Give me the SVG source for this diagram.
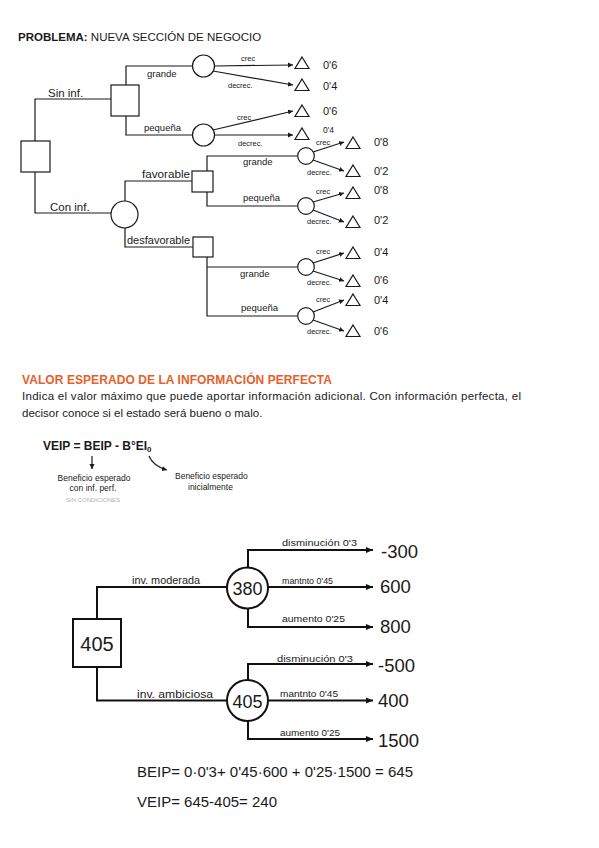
<svg xmlns="http://www.w3.org/2000/svg" width="599" height="848" viewBox="0 0 599 848">
<defs>
<style>
text{font-family:"Liberation Sans",Arial,sans-serif;fill:#1a1a1a}
.ln{fill:none;stroke:#1a1a1a;stroke-width:1.2}
.lnb{fill:none;stroke:#111;stroke-width:2}
.nd{fill:#fff;stroke:#1a1a1a;stroke-width:1.2}
.ndb{fill:#fff;stroke:#111;stroke-width:2}
.tri{fill:#fff;stroke:#1a1a1a;stroke-width:1.2}
.hw{font-size:9.5px}
.sm{font-size:7.5px}
.bl{font-size:9px}
.val{font-size:11px}
.bv{font-size:18.5px}
</style>
<marker id="ah" markerUnits="userSpaceOnUse" markerWidth="6" markerHeight="6" refX="5" refY="3" orient="auto"><path d="M0,0.5 L5,3 L0,5.5 Z" fill="#1a1a1a"/></marker>
<marker id="ahb" markerUnits="userSpaceOnUse" markerWidth="8" markerHeight="8" refX="7" refY="4" orient="auto"><path d="M0,1 L7,4 L0,7 Z" fill="#111"/></marker>
<path id="trishape" d="M0,-6 L7,5.5 L-7,5.5 Z"/>
</defs>
<rect width="599" height="848" fill="#fff"/>

<text x="18" y="41" font-size="11.5"><tspan font-weight="bold">PROBLEMA:</tspan> NUEVA SECCIÓN DE NEGOCIO</text>

<g id="connectors-top">
<path class="ln" d="M35 141 V99 H111"/>
<path class="ln" d="M35 172 V213 H111"/>
<path class="ln" d="M126 85 V66 H192.5"/>
<path class="ln" d="M126 116 V135 H192.5"/>
<path class="ln" d="M214.5 66 L293 65" marker-end="url(#ah)"/>
<path class="ln" d="M213 71 L293 85" marker-end="url(#ah)"/>
<path class="ln" d="M213 130 L293 111" marker-end="url(#ah)"/>
<path class="ln" d="M214.5 135 L293 135" marker-end="url(#ah)"/>
<path class="ln" d="M125 201 V181 H192"/>
<path class="ln" d="M125 228 V247 H193"/>
<path class="ln" d="M207 171 V156 H297.7"/>
<path class="ln" d="M207 192 V206 H297.7"/>
<path class="ln" d="M207 257 V316 H297.7"/>
<path class="ln" d="M207 267 H297.7"/>
<path class="ln" d="M313 152 L344 142" marker-end="url(#ah)"/>
<path class="ln" d="M313 160 L344 171" marker-end="url(#ah)"/>
<path class="ln" d="M313 202 L344 193" marker-end="url(#ah)"/>
<path class="ln" d="M313 210 L344 222" marker-end="url(#ah)"/>
<path class="ln" d="M313 263 L344 253" marker-end="url(#ah)"/>
<path class="ln" d="M313 271 L344 281" marker-end="url(#ah)"/>
<path class="ln" d="M313 312 L344 300" marker-end="url(#ah)"/>
<path class="ln" d="M313 320 L344 331" marker-end="url(#ah)"/>
</g>

<g id="root"><rect class="nd" x="21" y="141" width="29" height="31"/></g>
<g id="d-sininf"><rect class="nd" x="111" y="85" width="28" height="31"/></g>
<g id="c-grande"><circle class="nd" cx="203.5" cy="66" r="11"/></g>
<g id="c-pequena"><circle class="nd" cx="203.5" cy="135" r="11"/></g>
<g id="c-coninf"><circle class="nd" cx="124.5" cy="214.5" r="13.5"/></g>
<g id="d-fav"><rect class="nd" x="192" y="171" width="21" height="21"/></g>
<g id="d-desfav"><rect class="nd" x="193" y="237" width="20" height="20"/></g>
<g id="c-fav-grande"><circle class="nd" cx="306" cy="156" r="8.3"/></g>
<g id="c-fav-pequena"><circle class="nd" cx="306" cy="206" r="8.3"/></g>
<g id="c-desf-grande"><circle class="nd" cx="306" cy="267" r="8.3"/></g>
<g id="c-desf-pequena"><circle class="nd" cx="306" cy="316" r="8.3"/></g>

<g id="terminals-top">
<use href="#trishape" class="tri" x="302" y="63"/>
<use href="#trishape" class="tri" x="302" y="85"/>
<use href="#trishape" class="tri" x="302" y="111"/>
<use href="#trishape" class="tri" x="302" y="134"/>
<use href="#trishape" class="tri" x="353" y="143"/>
<use href="#trishape" class="tri" x="353" y="171"/>
<use href="#trishape" class="tri" x="353" y="193"/>
<use href="#trishape" class="tri" x="353" y="222"/>
<use href="#trishape" class="tri" x="353" y="253"/>
<use href="#trishape" class="tri" x="353" y="281"/>
<use href="#trishape" class="tri" x="353" y="300"/>
<use href="#trishape" class="tri" x="353" y="331"/>
</g>

<g id="values-top">
<text class="val" x="323" y="69">0'6</text>
<text class="val" x="323" y="90">0'4</text>
<text class="val" x="323" y="115">0'6</text>
<text x="323" y="133" font-size="8.5">0'4</text>
<text class="val" x="374" y="146">0'8</text>
<text class="val" x="374" y="175">0'2</text>
<text class="val" x="374" y="194">0'8</text>
<text class="val" x="374" y="224">0'2</text>
<text class="val" x="374" y="256">0'4</text>
<text class="val" x="374" y="284">0'6</text>
<text class="val" x="374" y="304">0'4</text>
<text class="val" x="374" y="335">0'6</text>
</g>

<g id="labels-top">
<text x="48" y="97" font-size="11.5">Sin inf.</text>
<text x="50" y="211" font-size="11.5">Con inf.</text>
<text class="hw" x="147" y="77">grande</text>
<text class="hw" x="144" y="131">pequeña</text>
<text class="sm" x="241" y="61">crec</text>
<text class="sm" x="228" y="88">decrec.</text>
<text class="sm" x="237" y="120">crec</text>
<text class="sm" x="238" y="146">decrec.</text>
<text x="142" y="178" font-size="10.5" textLength="48" lengthAdjust="spacingAndGlyphs">favorable</text>
<text x="127" y="244" font-size="10.5" textLength="63" lengthAdjust="spacingAndGlyphs">desfavorable</text>
<text class="hw" x="243" y="165">grande</text>
<text class="hw" x="243" y="201">pequeña</text>
<text class="hw" x="240" y="277">grande</text>
<text class="hw" x="241" y="311">pequeña</text>
<text class="sm" x="316" y="145">crec</text>
<text class="sm" x="307" y="175">decrec.</text>
<text class="sm" x="316" y="194">crec</text>
<text class="sm" x="307" y="224">decrec.</text>
<text class="sm" x="316" y="254">crec</text>
<text class="sm" x="307" y="285">decrec.</text>
<text class="sm" x="316" y="302">crec</text>
<text class="sm" x="307" y="334">decrec.</text>
</g>

<text x="22" y="384" font-size="12" font-weight="bold" style="fill:#e5602c" textLength="310">VALOR ESPERADO DE LA INFORMACIÓN PERFECTA</text>
<text x="22" y="400" font-size="11.5" textLength="499">Indica el valor máximo que puede aportar información adicional. Con información perfecta, el</text>
<text x="22" y="417" font-size="11.5">decisor conoce si el estado será bueno o malo.</text>

<text x="43" y="450" font-size="12" font-weight="bold">VEIP = BEIP - B°EI<tspan font-size="8" dy="2">0</tspan></text>
<path class="ln" d="M92 456 V469" marker-end="url(#ah)"/>
<path class="ln" d="M149 456 Q153 466 167 470" marker-end="url(#ah)"/>
<text x="94" y="481" font-size="8.5" text-anchor="middle">Beneficio esperado</text>
<text x="93" y="491" font-size="8.5" text-anchor="middle">con inf. perf.</text>
<text x="93" y="502" font-size="6" text-anchor="middle" style="fill:#b0b0b0">SIN CONDICIONES</text>
<text x="175" y="479" font-size="8.5">Beneficio esperado</text>
<text x="188" y="490" font-size="8.5">inicialmente</text>

<g id="connectors-bottom">
<path class="lnb" d="M97 619 V587 H227"/>
<path class="lnb" d="M97 667 V700.5 H227"/>
<path class="lnb" d="M248 567.5 V550 H373" marker-end="url(#ahb)"/>
<path class="lnb" d="M268 587 H373" marker-end="url(#ahb)"/>
<path class="lnb" d="M248 608.5 V627 H373" marker-end="url(#ahb)"/>
<path class="lnb" d="M248 680 V664 H373" marker-end="url(#ahb)"/>
<path class="lnb" d="M268 700.5 H373" marker-end="url(#ahb)"/>
<path class="lnb" d="M248 721 V739 H373" marker-end="url(#ahb)"/>
</g>

<g id="d-405"><rect class="ndb" x="73" y="619" width="48" height="48"/><text x="97" y="651" font-size="20" text-anchor="middle">405</text></g>
<g id="c-380"><circle class="ndb" cx="247.5" cy="588" r="20.5"/><text x="247.5" y="595" font-size="18" text-anchor="middle">380</text></g>
<g id="c-405"><circle class="ndb" cx="247.5" cy="700.5" r="20.5"/><text x="247.5" y="707.5" font-size="18" text-anchor="middle">405</text></g>

<g id="labels-bottom">
<text x="132" y="584" font-size="10.5" textLength="68" lengthAdjust="spacingAndGlyphs">inv. moderada</text>
<text x="137" y="698" font-size="10.5" textLength="76" lengthAdjust="spacingAndGlyphs">inv. ambiciosa</text>
<text class="bl" x="282" y="546" textLength="75" lengthAdjust="spacingAndGlyphs">disminución 0'3</text>
<text class="bl" x="282" y="584" textLength="51" lengthAdjust="spacingAndGlyphs">mantnto 0'45</text>
<text class="bl" x="282" y="622" textLength="63" lengthAdjust="spacingAndGlyphs">aumento 0'25</text>
<text class="bl" x="277" y="662" textLength="76" lengthAdjust="spacingAndGlyphs">disminución 0'3</text>
<text class="bl" x="280" y="697" textLength="58" lengthAdjust="spacingAndGlyphs">mantnto 0'45</text>
<text class="bl" x="280" y="736" textLength="60" lengthAdjust="spacingAndGlyphs">aumento 0'25</text>
<text class="bv" x="381" y="558">-300</text>
<text class="bv" x="380" y="593">600</text>
<text class="bv" x="380" y="633">800</text>
<text class="bv" x="378" y="672">-500</text>
<text class="bv" x="378" y="707">400</text>
<text class="bv" x="378" y="747">1500</text>
</g>

<text x="137" y="777" font-size="15" textLength="276" lengthAdjust="spacingAndGlyphs">BEIP= 0·0'3+ 0'45·600 + 0'25·1500 = 645</text>
<text x="137" y="807" font-size="15" textLength="140" lengthAdjust="spacingAndGlyphs">VEIP= 645-405= 240</text>
</svg>
